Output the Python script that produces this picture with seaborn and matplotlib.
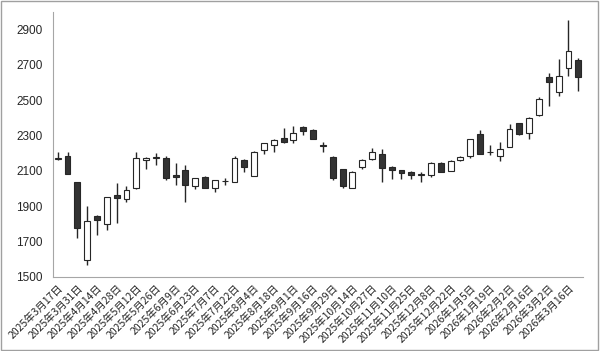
import matplotlib
matplotlib.use('Agg')
import matplotlib.pyplot as plt
import seaborn as sns
import pandas as pd
from matplotlib.patches import Rectangle

dates = ['2025年3月17日', '2025年3月24日', '2025年3月31日', '2025年4月7日', '2025年4月14日',
         '2025年4月21日', '2025年4月28日', '2025年5月7日', '2025年5月12日', '2025年5月19日',
         '2025年5月26日', '2025年6月2日', '2025年6月9日', '2025年6月16日', '2025年6月23日',
         '2025年6月30日', '2025年7月7日', '2025年7月14日', '2025年7月22日', '2025年7月28日',
         '2025年8月4日', '2025年8月12日', '2025年8月18日', '2025年8月25日', '2025年9月1日',
         '2025年9月8日', '2025年9月16日', '2025年9月22日', '2025年9月29日', '2025年10月6日',
         '2025年10月14日', '2025年10月20日', '2025年10月27日', '2025年11月4日', '2025年11月10日',
         '2025年11月17日', '2025年11月25日', '2025年12月1日', '2025年12月8日', '2025年12月15日',
         '2025年12月22日', '2025年12月29日', '2026年1月5日', '2026年1月13日', '2026年1月19日',
         '2026年1月26日', '2026年2月2日', '2026年2月9日', '2026年2月16日', '2026年2月24日',
         '2026年3月2日', '2026年3月9日', '2026年3月16日', '2026年3月23日']

opens = [2170, 2185, 2035, 1598, 1845, 1798, 1965, 1942, 2001, 2160,
         2176, 2172, 2077, 2105, 2015, 2068, 2005, 2041, 2040, 2162,
         2073, 2220, 2244, 2289, 2276, 2351, 2332, 2246, 2181, 2109,
         2004, 2124, 2166, 2196, 2124, 2105, 2094, 2078, 2077, 2143,
         2100, 2160, 2187, 2308, 2205, 2187, 2238, 2370, 2317, 2414,
         2629, 2544, 2683, 2726]
highs = [2210, 2210, 2040, 1901, 1848, 1952, 2030, 2017, 2205, 2178,
         2204, 2185, 2143, 2134, 2060, 2070, 2050, 2058, 2185, 2165,
         2212, 2260, 2280, 2342, 2352, 2356, 2335, 2266, 2183, 2112,
         2098, 2165, 2228, 2222, 2127, 2108, 2097, 2094, 2152, 2152,
         2160, 2183, 2283, 2332, 2247, 2266, 2366, 2374, 2405, 2516,
         2654, 2735, 2957, 2739]
lows = [2160, 2080, 1722, 1570, 1736, 1768, 1803, 1922, 1998, 2110,
        2134, 2050, 2020, 1925, 1996, 2004, 1978, 2020, 2035, 2096,
        2070, 2194, 2209, 2257, 2257, 2304, 2278, 2209, 2049, 2001,
        2002, 2111, 2164, 2035, 2052, 2052, 2052, 2040, 2068, 2094,
        2098, 2157, 2175, 2194, 2190, 2156, 2234, 2306, 2280, 2410,
        2469, 2522, 2639, 2550]
closes = [2175, 2082, 1775, 1818, 1825, 1950, 1945, 1992, 2175, 2172,
          2179, 2058, 2065, 2020, 2058, 2006, 2049, 2045, 2175, 2125,
          2210, 2257, 2276, 2263, 2314, 2327, 2280, 2242, 2058, 2015,
          2096, 2162, 2209, 2115, 2106, 2087, 2076, 2080, 2147, 2096,
          2156, 2180, 2281, 2196, 2207, 2225, 2338, 2310, 2402, 2508,
          2603, 2639, 2777, 2631]

df = pd.DataFrame({'date': dates, 'open': opens, 'high': highs,
                   'low': lows, 'close': closes})
df['pos'] = range(len(df))
df['up'] = df['close'] >= df['open']

sns.set_style('white')
plt.rcParams['font.family'] = ['Noto Sans CJK JP', 'DejaVu Sans']

fig = plt.figure(figsize=(6.0, 3.51), dpi=100)
ax = fig.add_axes([0.088, 0.211, 0.884, 0.755])

# wicks
ax.vlines(df['pos'], df['low'], df['high'], color='#262626', lw=1.0, zorder=1)
# bodies
body_bottom = df[['open', 'close']].min(axis=1)
body_h = (df['close'] - df['open']).abs().clip(lower=1.5)
face = ['white' if u else '#333333' for u in df['up']]
ax.bar(df['pos'], body_h, bottom=body_bottom, width=0.6, color=face,
       edgecolor='#262626', linewidth=0.8, zorder=2)

ax.set_xlim(-0.5, len(df) - 0.5)
ax.set_ylim(1500, 3000)
ax.set_yticks(range(1500, 3000, 200))
ax.set_xticks(df['pos'][::2])
ax.set_xticklabels(df['date'][::2], rotation=45, ha='right',
                   rotation_mode='anchor', fontsize=7.5)
ax.set_xticks([p - 0.5 for p in range(len(df) + 1)], minor=True)
ax.tick_params(axis='x', which='major', length=0, pad=4)
ax.tick_params(axis='x', which='minor', length=4, color='#a6a6a6', width=0.8)
ax.tick_params(axis='y', length=4, color='#a6a6a6', width=0.8, labelsize=8.5)
for lab in ax.get_yticklabels():
    lab.set_family(['Liberation Sans', 'DejaVu Sans'])

sns.despine(ax=ax, top=True, right=True)
for s in ['left', 'bottom']:
    ax.spines[s].set_color('#a6a6a6')
    ax.spines[s].set_linewidth(0.8)

fig.patches.append(Rectangle((0.002, 0.003), 0.995, 0.994, transform=fig.transFigure,
                             fill=False, edgecolor='#a0a0a0', linewidth=1.0))

fig.savefig('out.png', dpi=100)
